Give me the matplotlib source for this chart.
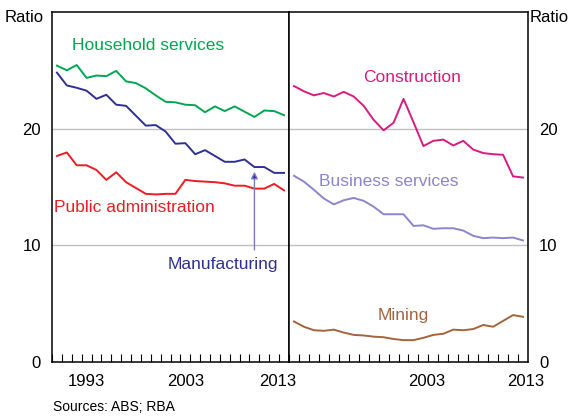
import matplotlib
matplotlib.use("Agg")
import matplotlib.pyplot as plt
import matplotlib.transforms as mtransforms

plt.rcParams['font.family'] = ['Liberation Sans', 'DejaVu Sans']

years = list(range(1990, 2014))

# left panel
household = [25.4, 25.0, 25.45, 24.35, 24.55, 24.5, 24.95, 24.05, 23.9, 23.45, 22.85, 22.3,
             22.25, 22.05, 22.0, 21.4, 21.9, 21.5, 21.9, 21.45, 21.0, 21.55, 21.5, 21.15]
manufacturing = [24.8, 23.7, 23.5, 23.25, 22.55, 22.9, 22.05, 21.95, 21.1, 20.25, 20.3, 19.75,
                 18.7, 18.75, 17.8, 18.15, 17.65, 17.15, 17.15, 17.35, 16.7, 16.7, 16.2, 16.2]
public_admin = [17.65, 17.95, 16.85, 16.85, 16.45, 15.6, 16.25, 15.4, 14.9, 14.4, 14.35, 14.4,
                14.4, 15.6, 15.5, 15.45, 15.4, 15.3, 15.1, 15.1, 14.85, 14.85, 15.25, 14.7]

# right panel
construction = [23.65, 23.2, 22.85, 23.05, 22.75, 23.15, 22.75, 21.95, 20.75, 19.85, 20.5, 22.55,
                20.55, 18.5, 18.95, 19.05, 18.55, 18.95, 18.2, 17.9, 17.8, 17.75, 15.9, 15.8]
business = [15.95, 15.45, 14.75, 14.0, 13.5, 13.85, 14.05, 13.8, 13.3, 12.65, 12.65, 12.65,
            11.65, 11.7, 11.4, 11.45, 11.45, 11.25, 10.8, 10.6, 10.65, 10.6, 10.65, 10.4]
mining = [3.45, 3.0, 2.7, 2.65, 2.75, 2.5, 2.3, 2.25, 2.15, 2.1, 1.95, 1.85,
          1.85, 2.05, 2.3, 2.4, 2.75, 2.7, 2.8, 3.15, 3.0, 3.5, 4.0, 3.85]

GREEN = '#00a651'
NAVY = '#2e3192'
RED = '#ed1c24'
PINK = '#d91b7f'
LAV = '#8b85cc'
BROWN = '#a5643a'

fig = plt.figure(figsize=(5.71, 4.17), dpi=100)
ax1 = fig.add_axes([0.0911, 0.1326, 0.4150, 0.8386])
ax2 = fig.add_axes([0.5061, 0.1326, 0.4186, 0.8386])

for ax in (ax1, ax2):
    ax.set_xlim(1989.5, 2013.5)
    ax.set_ylim(0, 30)
    for y in (10, 20):
        ax.axhline(y, color='#c0c0c0', lw=1.0, zorder=1)
    ax.set_xticks([y + 0.5 for y in range(1989, 2013)], minor=True)
    ax.tick_params(axis='x', which='minor', direction='in', length=5.5, width=0.8)
    ax.tick_params(axis='x', which='major', length=0, pad=9, labelsize=12)
    ax.tick_params(axis='y', length=0, labelsize=12)
    for s in ax.spines.values():
        s.set_linewidth(1.1)
        s.set_color('black')
    ax.set_yticks([0, 10, 20])

ax1.set_xticks([1993, 2003, 2013])
ax1.set_xticklabels(['1993', '2003', '2013'])
ax1.tick_params(axis='y', pad=8)
lab = ax1.get_xticklabels()[-1]
lab.set_transform(lab.get_transform() + mtransforms.ScaledTranslation(-6 / 100, 0, fig.dpi_scale_trans))

ax2.set_xticks([2003, 2013])
ax2.set_xticklabels(['2003', '2013'])
ax2.yaxis.tick_right()
ax2.tick_params(axis='y', pad=8, length=0)
for lab in ax2.get_xticklabels():
    lab.set_transform(lab.get_transform() + mtransforms.ScaledTranslation(3 / 100, 0, fig.dpi_scale_trans))

lw = 1.4
ax1.plot(years, household, color=GREEN, lw=lw, zorder=3)
ax1.plot(years, manufacturing, color=NAVY, lw=lw, zorder=3)
ax1.plot(years, public_admin, color=RED, lw=lw, zorder=3)
ax2.plot(years, construction, color=PINK, lw=lw, zorder=3)
ax2.plot(years, business, color=LAV, lw=lw, zorder=3)
ax2.plot(years, mining, color=BROWN, lw=lw, zorder=3)

fs = 12.5
ax1.text(1991.5, 27.1, 'Household services', color=GREEN, fontsize=fs, va='center')
ax1.text(1989.7, 13.2, 'Public administration', color=RED, fontsize=fs, va='center')
ax1.text(2001.2, 8.3, 'Manufacturing', color=NAVY, fontsize=fs, va='center')
ax1.annotate('', xy=(2010.0, 16.3), xytext=(2010.0, 9.6),
             arrowprops=dict(arrowstyle='-|>', ec='#7a7abf', fc=NAVY, lw=1.0,
                             mutation_scale=10, shrinkA=0, shrinkB=0))
ax2.text(2001.9, 24.4, 'Construction', color=PINK, fontsize=fs, va='center', ha='center')
ax2.text(1999.5, 15.5, 'Business services', color=LAV, fontsize=fs, va='center', ha='center')
ax2.text(2001.0, 4.0, 'Mining', color=BROWN, fontsize=fs, va='center', ha='center')

fig.text(5 / 571, 1 - 18 / 417, 'Ratio', fontsize=12, va='center', ha='left')
fig.text(569 / 571, 1 - 18 / 417, 'Ratio', fontsize=12, va='center', ha='right')
fig.text(53 / 571, 1 - 407 / 417, 'Sources: ABS; RBA', fontsize=10, va='center', ha='left')

fig.savefig('out.png', dpi=100)
